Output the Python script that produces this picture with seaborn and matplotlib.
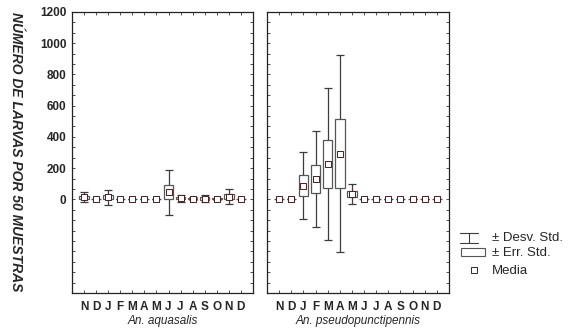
import numpy as np
import pandas as pd
import matplotlib
matplotlib.use("Agg")
import matplotlib.pyplot as plt
import seaborn as sns
from matplotlib.ticker import MultipleLocator, FixedLocator
from matplotlib.patches import Rectangle
from matplotlib.lines import Line2D

# ---- data ----
months = ["N", "D", "J", "F", "M", "A", "M", "J", "J", "A", "S", "O", "N", "D"]

aqua_mean = [13, 0, 14, 0, 0, 0, 0, 45, 6, 5, 5, 4, 18, 0]
aqua_se = [10, 0, 15, 0, 0, 0, 0, 45, 7, 4, 8, 3, 14, 0]
aqua_sd = [32, 0, 48, 0, 0, 0, 0, 145, 20, 8, 20, 6, 48, 0]

pseudo_mean = [0, 0, 87, 130, 226, 292, 32, 0, 0, 0, 0, 0, 0, 0]
pseudo_se = [0, 0, 68, 92, 153, 222, 20, 0, 0, 0, 0, 0, 0, 0]
pseudo_sd = [0, 0, 215, 310, 485, 630, 64, 0, 0, 0, 0, 0, 0, 0]

species = ["An. aquasalis", "An. pseudopunctipennis"]
ylabel = "NÚMERO DE LARVAS POR 50 MUESTRAS"
legend_labels = ["± Desv. Std.", "± Err. Std.", "Media"]

sns.set_theme(style="white")
plt.rcParams["font.family"] = ["Liberation Sans", "DejaVu Sans"]

fig = plt.figure(figsize=(5.79, 3.28), dpi=100)
W, H = 579, 328
def fax(x0, y0, x1, y1):
    return fig.add_axes([x0 / W, 1 - y1 / H, (x1 - x0) / W, (y1 - y0) / H])

ax1 = fax(72, 12, 253, 293)
ax2 = fax(267, 12, 449, 293)

whisk_c = "#3c3c3c"
box_c = "#555555"
mean_c = "#4a1e1e"

for ax, mean, se, sd, name in [(ax1, aqua_mean, aqua_se, aqua_sd, species[0]),
                               (ax2, pseudo_mean, pseudo_se, pseudo_sd, species[1])]:
    df = pd.DataFrame({"pos": np.arange(len(months)), "mean": mean, "se": se, "sd": sd})
    ax.errorbar(df["pos"], df["mean"], yerr=df["sd"], fmt="none", ecolor=whisk_c,
                elinewidth=0.9, capsize=3.2, capthick=0.9, zorder=1)
    ax.bar(df["pos"], 2 * df["se"], bottom=df["mean"] - df["se"], width=0.78,
           color="white", edgecolor=box_c, linewidth=0.9, zorder=2)
    sns.scatterplot(data=df, x="pos", y="mean", ax=ax, marker="s", s=22,
                    color="white", edgecolor=mean_c, linewidth=0.7, zorder=3)
    ax.set_xlim(-1, len(months))
    ax.set_ylim(-600, 1200)
    ax.set_xticks(df["pos"])
    ax.set_xticklabels(months, fontsize=8.5, fontweight="bold")
    ax.yaxis.set_major_locator(FixedLocator(np.arange(-600, 1201, 200)))
    ax.yaxis.set_minor_locator(MultipleLocator(200 / 3))
    ax.tick_params(axis="both", which="both", direction="in", top=True, right=True,
                   left=True, bottom=True, length=2, width=0.6, color="#333333")
    ax.tick_params(axis="x", pad=6)
    ax.set_xlabel(name, fontsize=8.5, fontstyle="italic", labelpad=1)
    ax.set_ylabel("")
    for sp in ax.spines.values():
        sp.set_color("#222222")
        sp.set_linewidth(0.9)

ax1.set_yticklabels([str(v) if v >= 0 else "" for v in np.arange(-600, 1201, 200)],
                    fontsize=8.5, fontweight="bold")
ax1.tick_params(axis="y", pad=4)
ax2.set_yticklabels([])

fig.text(16 / W, 1 - 152 / H, ylabel, rotation=-90, ha="center", va="center",
         fontsize=10, fontweight="bold", fontstyle="italic")

# ---- legend ----
lg = fig.add_axes([0, 0, 1, 1], facecolor="none")
lg.set_xlim(0, W)
lg.set_ylim(H, 0)
lg.axis("off")
# SD symbol
lg.add_line(Line2D([460, 478], [233, 233], color=whisk_c, lw=0.8))
lg.add_line(Line2D([469, 469], [233, 243], color=whisk_c, lw=0.8))
lg.add_line(Line2D([460, 478], [243, 243], color=whisk_c, lw=0.8))
lg.add_patch(Rectangle((461, 248), 24, 8, facecolor="white", edgecolor=box_c, lw=0.8))
lg.plot([474], [270], marker="s", ms=3.8, mfc="white", mec=mean_c, mew=0.7)
for y, t in zip([238, 253, 271], legend_labels):
    lg.text(492, y, t, fontsize=9.5, va="center", ha="left")

fig.savefig("out.png", dpi=100)
